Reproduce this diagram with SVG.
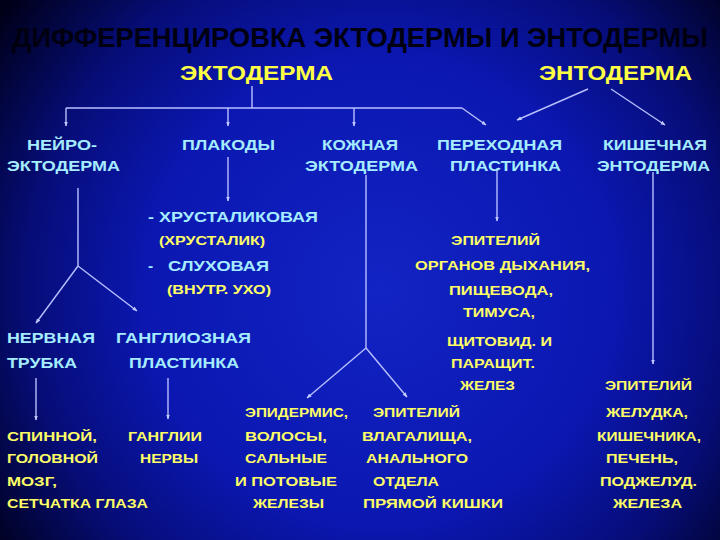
<svg xmlns="http://www.w3.org/2000/svg" width="720" height="540" viewBox="0 0 720 540">
<defs>
<radialGradient id="bg" cx="380" cy="290" r="470" gradientUnits="userSpaceOnUse">
<stop offset="0" stop-color="#1224c4"/>
<stop offset="0.5" stop-color="#0b17b0"/>
<stop offset="0.75" stop-color="#060d78"/>
<stop offset="1" stop-color="#000018"/>
</radialGradient>
<marker id="ah" viewBox="0 0 10 10" refX="9" refY="5" markerWidth="5" markerHeight="5" orient="auto" markerUnits="userSpaceOnUse">
<path d="M0,1 L10,5 L0,9 z" fill="#c0c8ff"/>
</marker>
</defs>
<style>
text{font-family:"Liberation Sans",Arial,sans-serif;font-weight:bold}
.title{font-size:27px;fill:#000010}
.head{font-size:21px;fill:#ffff44}
.c{font-size:15.5px;fill:#a6ecff}
.y{font-size:13.5px;fill:#ffff66}
.ln{stroke:#b8c0ff;stroke-width:1.4;fill:none}
.ar{marker-end:url(#ah)}
</style>
<rect width="720" height="540" fill="url(#bg)"/>
<text class="title" x="12" y="47" textLength="696" lengthAdjust="spacingAndGlyphs">ДИФФЕРЕНЦИРОВКА ЭКТОДЕРМЫ И ЭНТОДЕРМЫ</text>

<g id="connectors">
<path class="ln" d="M252,86 V108 M66,108 H462"/>
<path class="ln ar" d="M66,108 V126"/>
<path class="ln ar" d="M228,108 V126"/>
<path class="ln ar" d="M354,108 V126"/>
<path class="ln ar" d="M462,108 L486,125"/>
<path class="ln ar" d="M588,89 L517,120"/>
<path class="ln ar" d="M611,89 L665,125"/>
<path class="ln" d="M78,188 V266"/>
<path class="ln ar" d="M78,266 L36,323"/>
<path class="ln ar" d="M78,266 L137,311"/>
<path class="ln ar" d="M228,157 V201"/>
<path class="ln" d="M366,175 V348"/>
<path class="ln ar" d="M366,348 L307,398"/>
<path class="ln ar" d="M366,348 L407,397"/>
<path class="ln ar" d="M497,168 V221"/>
<path class="ln ar" d="M653,172 V364"/>
<path class="ln ar" d="M36,378 V420"/>
<path class="ln ar" d="M168,378 V419"/>
</g>

<g id="ectoderm"><text class="head" x="180" y="80" textLength="153" lengthAdjust="spacingAndGlyphs">ЭКТОДЕРМА</text></g>
<g id="entoderm"><text class="head" x="539" y="80" textLength="153" lengthAdjust="spacingAndGlyphs">ЭНТОДЕРМА</text></g>

<g id="neuroectoderm">
<text class="c" x="27" y="150" textLength="70" lengthAdjust="spacingAndGlyphs">НЕЙРО-</text>
<text class="c" x="7" y="171" textLength="113" lengthAdjust="spacingAndGlyphs">ЭКТОДЕРМА</text>
</g>
<g id="placodes">
<text class="c" x="182" y="150" textLength="93" lengthAdjust="spacingAndGlyphs">ПЛАКОДЫ</text>
</g>
<g id="skin-ectoderm">
<text class="c" x="322" y="150" textLength="76" lengthAdjust="spacingAndGlyphs">КОЖНАЯ</text>
<text class="c" x="305" y="171" textLength="113" lengthAdjust="spacingAndGlyphs">ЭКТОДЕРМА</text>
</g>
<g id="transition-plate">
<text class="c" x="437" y="150" textLength="125" lengthAdjust="spacingAndGlyphs">ПЕРЕХОДНАЯ</text>
<text class="c" x="450" y="171" textLength="111" lengthAdjust="spacingAndGlyphs">ПЛАСТИНКА</text>
</g>
<g id="intestinal-entoderm">
<text class="c" x="603" y="150" textLength="104" lengthAdjust="spacingAndGlyphs">КИШЕЧНАЯ</text>
<text class="c" x="597" y="171" textLength="113" lengthAdjust="spacingAndGlyphs">ЭНТОДЕРМА</text>
</g>

<g id="placode-types">
<text class="c" x="148" y="222" textLength="170" lengthAdjust="spacingAndGlyphs">- ХРУСТАЛИКОВАЯ</text>
<text class="y" x="159" y="245" textLength="106" lengthAdjust="spacingAndGlyphs">(ХРУСТАЛИК)</text>
<text class="c" x="148" y="271">-</text>
<text class="c" x="168" y="271" textLength="101" lengthAdjust="spacingAndGlyphs">СЛУХОВАЯ</text>
<text class="y" x="167" y="294" textLength="104" lengthAdjust="spacingAndGlyphs">(ВНУТР. УХО)</text>
</g>

<g id="neural-tube">
<text class="c" x="7" y="343" textLength="88" lengthAdjust="spacingAndGlyphs">НЕРВНАЯ</text>
<text class="c" x="7" y="368" textLength="70" lengthAdjust="spacingAndGlyphs">ТРУБКА</text>
</g>
<g id="ganglion-plate">
<text class="c" x="116" y="343" textLength="135" lengthAdjust="spacingAndGlyphs">ГАНГЛИОЗНАЯ</text>
<text class="c" x="129" y="368" textLength="110" lengthAdjust="spacingAndGlyphs">ПЛАСТИНКА</text>
</g>

<g id="transition-derivatives">
<text class="y" x="451" y="245" textLength="89" lengthAdjust="spacingAndGlyphs">ЭПИТЕЛИЙ</text>
<text class="y" x="415" y="270" textLength="175" lengthAdjust="spacingAndGlyphs">ОРГАНОВ ДЫХАНИЯ,</text>
<text class="y" x="449" y="295" textLength="104" lengthAdjust="spacingAndGlyphs">ПИЩЕВОДА,</text>
<text class="y" x="463" y="317" textLength="72" lengthAdjust="spacingAndGlyphs">ТИМУСА,</text>
<text class="y" x="447" y="346" textLength="105" lengthAdjust="spacingAndGlyphs">ЩИТОВИД. И</text>
<text class="y" x="451" y="368" textLength="84" lengthAdjust="spacingAndGlyphs">ПАРАЩИТ.</text>
<text class="y" x="460" y="390" textLength="55" lengthAdjust="spacingAndGlyphs">ЖЕЛЕЗ</text>
</g>

<g id="intestinal-derivatives">
<text class="y" x="605" y="390" textLength="87" lengthAdjust="spacingAndGlyphs">ЭПИТЕЛИЙ</text>
<text class="y" x="606" y="417" textLength="82" lengthAdjust="spacingAndGlyphs">ЖЕЛУДКА,</text>
<text class="y" x="597" y="441" textLength="104" lengthAdjust="spacingAndGlyphs">КИШЕЧНИКА,</text>
<text class="y" x="606" y="463" textLength="72" lengthAdjust="spacingAndGlyphs">ПЕЧЕНЬ,</text>
<text class="y" x="600" y="486" textLength="97" lengthAdjust="spacingAndGlyphs">ПОДЖЕЛУД.</text>
<text class="y" x="613" y="508" textLength="69" lengthAdjust="spacingAndGlyphs">ЖЕЛЕЗА</text>
</g>

<g id="epidermis">
<text class="y" x="245" y="417" textLength="103" lengthAdjust="spacingAndGlyphs">ЭПИДЕРМИС,</text>
<text class="y" x="245" y="441" textLength="82" lengthAdjust="spacingAndGlyphs">ВОЛОСЫ,</text>
<text class="y" x="245" y="463" textLength="82" lengthAdjust="spacingAndGlyphs">САЛЬНЫЕ</text>
<text class="y" x="235" y="486" textLength="102" lengthAdjust="spacingAndGlyphs">И ПОТОВЫЕ</text>
<text class="y" x="253" y="508" textLength="71" lengthAdjust="spacingAndGlyphs">ЖЕЛЕЗЫ</text>
</g>

<g id="rectal-epithelium">
<text class="y" x="373" y="417" textLength="87" lengthAdjust="spacingAndGlyphs">ЭПИТЕЛИЙ</text>
<text class="y" x="362" y="441" textLength="110" lengthAdjust="spacingAndGlyphs">ВЛАГАЛИЩА,</text>
<text class="y" x="366" y="463" textLength="102" lengthAdjust="spacingAndGlyphs">АНАЛЬНОГО</text>
<text class="y" x="373" y="486" textLength="66" lengthAdjust="spacingAndGlyphs">ОТДЕЛА</text>
<text class="y" x="363" y="508" textLength="140" lengthAdjust="spacingAndGlyphs">ПРЯМОЙ  КИШКИ</text>
</g>

<g id="neural-derivatives">
<text class="y" x="7" y="441" textLength="90" lengthAdjust="spacingAndGlyphs">СПИННОЙ,</text>
<text class="y" x="7" y="463" textLength="91" lengthAdjust="spacingAndGlyphs">ГОЛОВНОЙ</text>
<text class="y" x="7" y="486" textLength="50" lengthAdjust="spacingAndGlyphs">МОЗГ,</text>
<text class="y" x="7" y="508" textLength="141" lengthAdjust="spacingAndGlyphs">СЕТЧАТКА ГЛАЗА</text>
</g>
<g id="ganglion-derivatives">
<text class="y" x="128" y="441" textLength="74" lengthAdjust="spacingAndGlyphs">ГАНГЛИИ</text>
<text class="y" x="140" y="463" textLength="58" lengthAdjust="spacingAndGlyphs">НЕРВЫ</text>
</g>
</svg>
